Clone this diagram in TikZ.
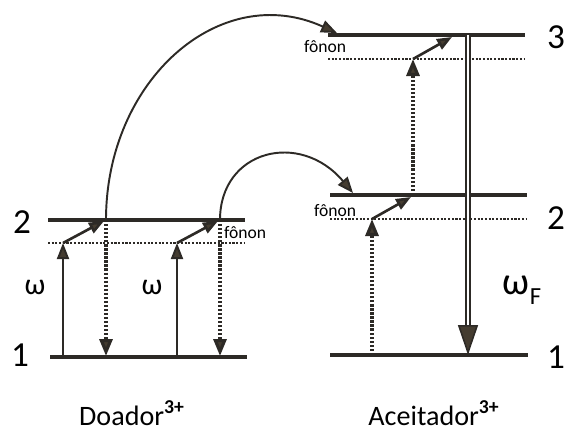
\documentclass[tikz,border=0pt]{standalone}
\usepackage{fontspec}
\setmainfont{Carlito}
\usetikzlibrary{arrows.meta}
\definecolor{tinta}{RGB}{45,42,38}
\definecolor{ponta}{RGB}{68,60,48}

\begin{document}
\begin{tikzpicture}[x=0.02cm, y=-0.02cm,
    nivel/.style={draw=tinta, line width=2.2pt},
    virtual/.style={draw=tinta, line width=1.6pt, dash pattern=on 1.2pt off 0.9pt},
    excita/.style={draw=tinta, line width=1.1pt, -{Triangle[length=3.2mm,width=2.4mm,fill=ponta]}},
    decai/.style={draw=tinta, line width=1.8pt, dash pattern=on 1.3pt off 1pt, -{Triangle[length=3.4mm,width=2.6mm,fill=ponta]}},
    fonon/.style={draw=tinta, line width=1.5pt, -{Triangle[length=3mm,width=2.3mm,fill=ponta]}},
    transf/.style={draw=tinta, line width=1.1pt, -{Triangle[length=3.2mm,width=2.5mm,fill=ponta]}},
    emite/.style={draw=tinta, line width=0.9pt, double=white, double distance=1.7pt, -{Triangle[length=6mm,width=4mm,fill=ponta]}},
    numero/.style={font=\fontsize{20}{22}\selectfont},
    freq/.style={font=\fontsize{17}{18}\selectfont},
    nota/.style={font=\fontsize{10}{11}\selectfont, inner sep=1pt},
    ion/.style={font=\fontsize{16}{17}\selectfont, inner sep=1pt, anchor=base}
  ]
  \useasboundingbox (0,0) rectangle (568,430);

  % Niveis do doador
  \draw[nivel] (48,220) -- (245,220);
  \draw[virtual] (48,243) -- (245,243);
  \draw[nivel] (50,357) -- (247,357);
  \node[numero] (d2) at (22,222) {2};
  \node[numero] (d1) at (20,355) {1};

  % Niveis do aceitador
  \draw[nivel] (328,35) -- (525,35);
  \draw[virtual] (328,59) -- (525,59);
  \draw[nivel] (330,195) -- (527,195);
  \draw[virtual] (330,219) -- (527,219);
  \draw[nivel] (330,355) -- (528,355);
  \node[numero] (a3) at (556,37) {3};
  \node[numero] (a2) at (556,218) {2};
  \node[numero] (a1) at (556,357) {1};

  % Excitacao e decaimento no doador
  \foreach \n/\x in {a/63,b/177} {
    \coordinate (d\n0) at (\x,356);
    \coordinate (d\n1) at (\x,243);
    \coordinate (d\n2) at (\x+41,221);
    \coordinate (d\n3) at (\x+43,220);
    \coordinate (d\n4) at (\x+43,356);
    \draw[excita] (d\n0) -- (d\n1);
    \draw[fonon] (d\n1) -- (d\n2);
    \draw[decai] (d\n3) -- (d\n4);
  }
  \node[freq] (wa) at (35,287) {ω};
  \node[freq] (wb) at (152,287) {ω};
  \node[nota, anchor=west] (fd) at (222,233) {fônon};

  % Transferencia de energia
  \coordinate (t3) at (337,33);
  \coordinate (t2) at (353,193);
  \draw[transf] (da3) .. controls (106,80) and (220,-20) .. (t3);
  \draw[transf] (db3) .. controls (220,150) and (300,130) .. (t2);

  % Aceitador
  \coordinate (aa0) at (372,355);
  \coordinate (aa1) at (372,219);
  \coordinate (aa2) at (411,197);
  \coordinate (ab0) at (413,195);
  \coordinate (ab1) at (413,59);
  \coordinate (ab2) at (452,37);
  \draw[decai] (aa0) -- (aa1);
  \draw[fonon] (aa1) -- (aa2);
  \draw[decai] (ab0) -- (ab1);
  \draw[fonon] (ab1) -- (ab2);
  \node[nota] (f3) at (325,47) {fônon};
  \node[nota] (f2) at (335,211) {fônon};

  % Emissao
  \coordinate (e0) at (468,35);
  \coordinate (e1) at (468,355);
  \draw[emite] (e0) -- (e1);
  \node[font=\fontsize{22}{24}\selectfont] (wf) at (522,290) {ω\raisebox{-0.55ex}{\fontsize{14}{15}\selectfont F}};

  % Rotulos
  \node[ion] (doador) at (132,425) {Doador\textsuperscript{\textbf{3+}}};
  \node[ion] (aceitador) at (434,425) {Aceitador\textsuperscript{\textbf{3+}}};
\end{tikzpicture}
\end{document}
